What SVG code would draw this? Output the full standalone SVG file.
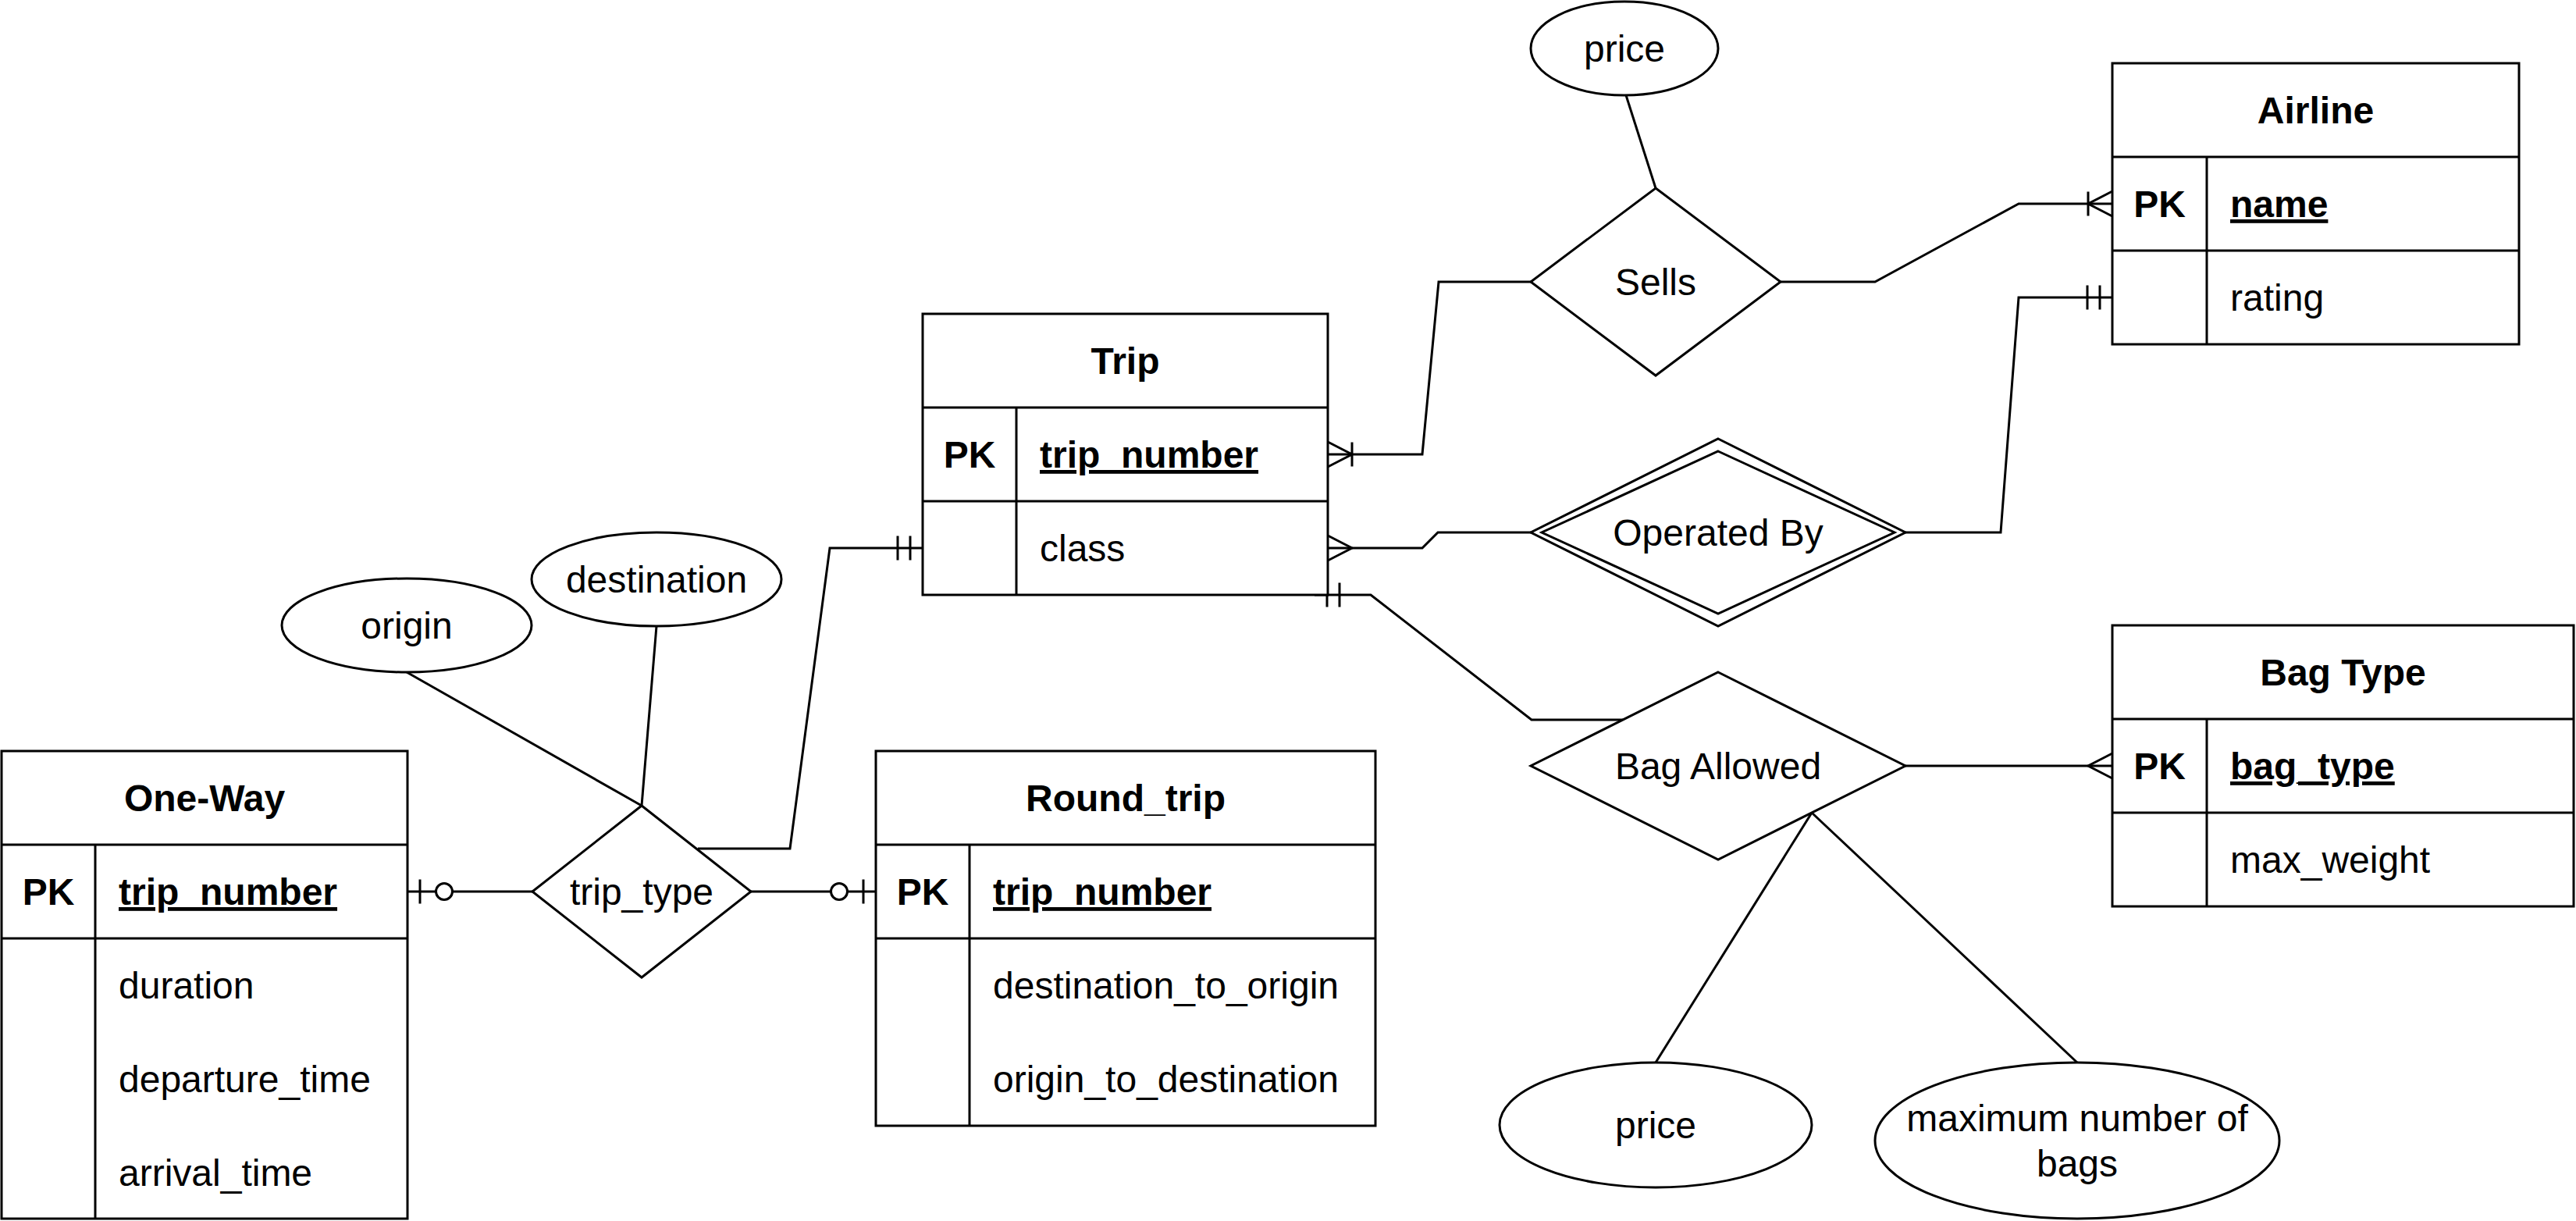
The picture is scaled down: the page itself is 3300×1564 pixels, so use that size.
<svg xmlns="http://www.w3.org/2000/svg" width="3300" height="1564" viewBox="0 0 3300 1564">
<style>
.t{font-family:"Liberation Sans",Arial,Helvetica,sans-serif;font-size:48px;fill:#000}
.b{font-weight:bold}
.c{text-anchor:middle}
.u{text-decoration:underline}
.box{fill:#fff;stroke:#000;stroke-width:3}
.ln{fill:none;stroke:#000;stroke-width:3}
.conn{fill:none;stroke:#000;stroke-width:3}
.mk{fill:none;stroke:#000;stroke-width:3}
</style>
<defs>
<marker id="mandOne" markerUnits="userSpaceOnUse" orient="auto" viewBox="-40 -20 44 40" markerWidth="44" markerHeight="40" refX="0" refY="0"><path class="mk" d="M-16,-15.5V15.5M-32,-15.5V15.5"/></marker>
<marker id="many" markerUnits="userSpaceOnUse" orient="auto" viewBox="-40 -20 44 40" markerWidth="44" markerHeight="40" refX="0" refY="0"><path class="mk" d="M0,-16L-31,0L0,16"/></marker>
<marker id="oneToMany" markerUnits="userSpaceOnUse" orient="auto" viewBox="-40 -20 44 40" markerWidth="44" markerHeight="40" refX="0" refY="0"><path class="mk" d="M0,-16L-31,0L0,16M-31,-15.5V15.5"/></marker>
<marker id="zeroToOne" markerUnits="userSpaceOnUse" orient="auto" viewBox="-62 -20 66 40" markerWidth="66" markerHeight="40" refX="0" refY="0"><path class="mk" d="M-16,-15.5V15.5"/><circle cx="-47" cy="0" r="10.5" fill="#fff" stroke="#000" stroke-width="3"/></marker>
</defs>
<rect x="0" y="0" width="3300" height="1564" fill="#fff"/>

<g id="connectors">
<path class="conn" d="M682,1142H522" marker-end="url(#zeroToOne)"/>
<path class="conn" d="M962,1142H1122" marker-end="url(#zeroToOne)"/>
<path class="conn" d="M894,1087H1012L1063,702H1182" marker-end="url(#mandOne)"/>
<path class="conn" d="M521,861L822,1032"/>
<path class="conn" d="M841,802L822,1032"/>
<path class="conn" d="M1961,361H1843L1822,582H1701" marker-end="url(#oneToMany)"/>
<path class="conn" d="M2281,361H2402L2586,261H2706" marker-end="url(#oneToMany)"/>
<path class="conn" d="M2083,122L2121,241"/>
<path class="conn" d="M1961,682H1842L1822,702H1701" marker-end="url(#many)"/>
<path class="conn" d="M2441,682H2563L2586,381H2706" marker-end="url(#mandOne)"/>
<path class="conn" d="M2080,922H1962L1756,762H1684" marker-end="url(#mandOne)"/>
<path class="conn" d="M2441,981H2706" marker-end="url(#many)"/>
<path class="conn" d="M2321,1041L2121,1361"/>
<path class="conn" d="M2321,1041L2661,1361"/>
</g>

<g id="trip">
<rect class="box" x="1182" y="402" width="519" height="360"/>
<path class="ln" d="M1182,522H1701M1182,642H1701M1302,522V762"/>
<text class="t b c" x="1441.5" y="479">Trip</text>
<text class="t b c" x="1242" y="599">PK</text>
<text class="t b u" x="1332" y="599">trip_number</text>
<text class="t" x="1332" y="719">class</text>
</g>

<g id="airline">
<rect class="box" x="2706" y="81" width="521" height="360"/>
<path class="ln" d="M2706,201H3227M2706,321H3227M2827,201V441"/>
<text class="t b c" x="2966.5" y="158">Airline</text>
<text class="t b c" x="2766.5" y="278">PK</text>
<text class="t b u" x="2857" y="278">name</text>
<text class="t" x="2857" y="398">rating</text>
</g>

<g id="bag-type">
<rect class="box" x="2706" y="801" width="591" height="360"/>
<path class="ln" d="M2706,921H3297M2706,1041H3297M2827,921V1161"/>
<text class="t b c" x="3001.5" y="878">Bag Type</text>
<text class="t b c" x="2766.5" y="998">PK</text>
<text class="t b u" x="2857" y="998">bag_type</text>
<text class="t" x="2857" y="1118">max_weight</text>
</g>

<g id="one-way">
<rect class="box" x="2" y="962" width="520" height="599"/>
<path class="ln" d="M2,1082H522M2,1202H522M122,1082V1561"/>
<text class="t b c" x="262" y="1039">One-Way</text>
<text class="t b c" x="62" y="1159">PK</text>
<text class="t b u" x="152" y="1159">trip_number</text>
<text class="t" x="152" y="1279">duration</text>
<text class="t" x="152" y="1399">departure_time</text>
<text class="t" x="152" y="1519">arrival_time</text>
</g>

<g id="round-trip">
<rect class="box" x="1122" y="962" width="640" height="480"/>
<path class="ln" d="M1122,1082H1762M1122,1202H1762M1242,1082V1442"/>
<text class="t b c" x="1442" y="1039">Round_trip</text>
<text class="t b c" x="1182" y="1159">PK</text>
<text class="t b u" x="1272" y="1159">trip_number</text>
<text class="t" x="1272" y="1279">destination_to_origin</text>
<text class="t" x="1272" y="1399">origin_to_destination</text>
</g>

<g id="sells">
<path class="box" d="M2121,241L2281,361L2121,481L1961,361Z"/>
<text class="t c" x="2121" y="378">Sells</text>
</g>

<g id="operated-by">
<path class="box" d="M2201,562L2441,682L2201,802L1961,682Z"/>
<path class="ln" d="M2201,578L2427,682L2201,786L1975,682Z"/>
<text class="t c" x="2201" y="699">Operated By</text>
</g>

<g id="bag-allowed">
<path class="box" d="M2201,861L2441,981L2201,1101L1961,981Z"/>
<text class="t c" x="2201" y="998">Bag Allowed</text>
</g>

<g id="trip-type">
<path class="box" d="M822,1032L962,1142L822,1252L682,1142Z"/>
<text class="t c" x="822" y="1159">trip_type</text>
</g>

<g id="price-sells">
<ellipse class="box" cx="2081" cy="62" rx="120" ry="60"/>
<text class="t c" x="2081" y="79">price</text>
</g>

<g id="origin">
<ellipse class="box" cx="521" cy="801" rx="160" ry="60"/>
<text class="t c" x="521" y="818">origin</text>
</g>

<g id="destination">
<ellipse class="box" cx="841" cy="742" rx="160" ry="60"/>
<text class="t c" x="841" y="759">destination</text>
</g>

<g id="price-bag">
<ellipse class="box" cx="2121" cy="1441" rx="200" ry="80"/>
<text class="t c" x="2121" y="1458">price</text>
</g>

<g id="max-bags">
<ellipse class="box" cx="2661" cy="1461" rx="259" ry="100"/>
<text class="t c" x="2661" y="1449">maximum number of</text>
<text class="t c" x="2661" y="1507">bags</text>
</g>
</svg>
